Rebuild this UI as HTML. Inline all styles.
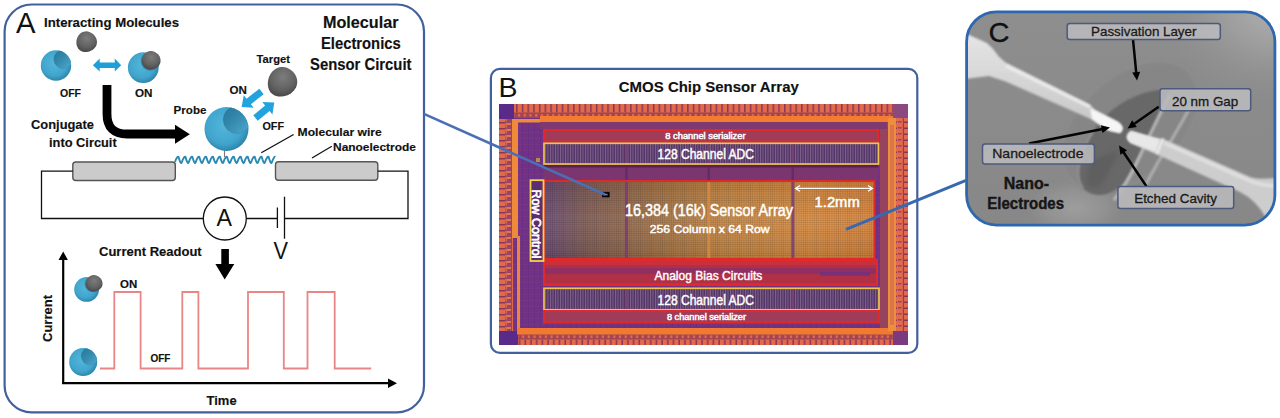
<!DOCTYPE html>
<html><head><meta charset="utf-8"><style>
html,body{margin:0;padding:0;background:#fff;width:1280px;height:418px;overflow:hidden}
svg{display:block}
text{font-family:"Liberation Sans", sans-serif}
</style></head><body>
<svg width="1280" height="418" viewBox="0 0 1280 418">

<defs>
 <radialGradient id="gBlue" cx="0.45" cy="0.42" r="0.6">
  <stop offset="0" stop-color="#52b6dc"/>
  <stop offset="0.7" stop-color="#40a4cc"/>
  <stop offset="1" stop-color="#2b82a8"/>
 </radialGradient>
 <linearGradient id="gCav" x1="0.1" y1="0.1" x2="0.9" y2="0.9">
  <stop offset="0" stop-color="#2a7a9c"/>
  <stop offset="0.45" stop-color="#3589ad"/>
  <stop offset="1" stop-color="#4aa6cb"/>
 </linearGradient>
 <radialGradient id="gGrey" cx="0.4" cy="0.35" r="0.7">
  <stop offset="0" stop-color="#7c7c7c"/>
  <stop offset="0.6" stop-color="#626262"/>
  <stop offset="1" stop-color="#444"/>
 </radialGradient>
</defs>

<rect x="4.6" y="4.5" width="419.4" height="407.9" rx="27" fill="#fff" stroke="#42609c" stroke-width="2.2"/>
<text x="16" y="32.5" font-size="29" font-weight="normal" fill="#111" textLength="19.5" lengthAdjust="spacingAndGlyphs" >A</text>
<text x="44" y="27.3" font-size="12.6" font-weight="bold" fill="#111" stroke="#111" stroke-width="0.15" textLength="135" lengthAdjust="spacingAndGlyphs" >Interacting Molecules</text>
<path d="M10.20,0.00 L9.98,1.36 L9.60,2.69 L9.06,3.98 L8.39,5.20 L7.60,6.33 L6.70,7.35 L5.72,8.25 L4.66,9.01 L3.54,9.61 L2.38,10.05 L1.20,10.31 L0.00,10.40 L-1.20,10.31 L-2.38,10.05 L-3.54,9.61 L-4.66,9.01 L-5.72,8.25 L-6.70,7.35 L-7.60,6.33 L-8.39,5.20 L-9.06,3.98 L-9.60,2.69 L-9.98,1.36 L-10.20,0.00 L-10.24,-1.36 L-10.11,-2.69 L-9.78,-3.98 L-9.28,-5.20 L-8.58,-6.33 L-7.72,-7.35 L-6.70,-8.25 L-5.54,-9.01 L-4.26,-9.61 L-2.89,-10.05 L-1.46,-10.31 L-0.00,-10.40 L1.46,-10.31 L2.89,-10.05 L4.26,-9.61 L5.54,-9.01 L6.70,-8.25 L7.72,-7.35 L8.58,-6.33 L9.28,-5.20 L9.78,-3.98 L10.11,-2.69 L10.24,-1.36 Z" transform="translate(86.3 42) rotate(40)" fill="url(#gGrey)"/>
<clipPath id="cpa"><circle cx="56" cy="65.5" r="15.2"/></clipPath>
<circle cx="56" cy="65.5" r="15.2" fill="url(#gBlue)"/>
<g clip-path="url(#cpa)"><circle cx="63.144" cy="59.116" r="9.424" fill="url(#gCav)" stroke="#2b7293" stroke-opacity="0.4" stroke-width="0.45599999999999996"/></g>
<clipPath id="cpb"><circle cx="143.3" cy="67.6" r="15.4"/></clipPath>
<circle cx="143.3" cy="67.6" r="15.4" fill="url(#gBlue)"/>
<g clip-path="url(#cpb)"><circle cx="150.538" cy="61.13199999999999" r="9.548" fill="url(#gCav)" stroke="#2b7293" stroke-opacity="0.4" stroke-width="0.46199999999999997"/></g>
<path d="M9.30,0.00 L9.15,1.23 L8.84,2.43 L8.39,3.60 L7.81,4.70 L7.11,5.72 L6.30,6.65 L5.39,7.46 L4.41,8.14 L3.36,8.68 L2.27,9.08 L1.14,9.32 L0.00,9.40 L-1.14,9.32 L-2.27,9.08 L-3.36,8.68 L-4.41,8.14 L-5.39,7.46 L-6.30,6.65 L-7.11,5.72 L-7.81,4.70 L-8.39,3.60 L-8.84,2.43 L-9.15,1.23 L-9.30,0.00 L-9.29,-1.23 L-9.12,-2.43 L-8.79,-3.60 L-8.30,-4.70 L-7.65,-5.72 L-6.86,-6.65 L-5.93,-7.46 L-4.89,-8.14 L-3.76,-8.68 L-2.55,-9.08 L-1.29,-9.32 L-0.00,-9.40 L1.29,-9.32 L2.55,-9.08 L3.76,-8.68 L4.89,-8.14 L5.93,-7.46 L6.86,-6.65 L7.65,-5.72 L8.30,-4.70 L8.79,-3.60 L9.12,-2.43 L9.29,-1.23 Z" transform="translate(151 60.6) rotate(40)" fill="url(#gGrey)"/>
<text x="60" y="97" font-size="11.2" font-weight="bold" fill="#111" stroke="#111" stroke-width="0.15" textLength="21" lengthAdjust="spacingAndGlyphs" >OFF</text>
<text x="135" y="97" font-size="11.2" font-weight="bold" fill="#111" stroke="#111" stroke-width="0.15" textLength="17.5" lengthAdjust="spacingAndGlyphs" >ON</text>
<path d="M92.9,65.2 L99.7,58.6 L99.7,62.6 L114.8,62.6 L114.8,58.6 L121.2,65.2 L114.8,71.5 L114.8,67.9 L99.7,67.9 L99.7,71.5 Z" fill="#1e9fd8"/>
<path d="M107,85 L107,114 Q107,134 127,134 L176,134" fill="none" stroke="#000" stroke-width="8.8"/>
<path d="M175,124.8 L189.8,134.2 L175,143.8 Z" fill="#000"/>
<text x="31" y="128.8" font-size="12.6" font-weight="bold" fill="#111" stroke="#111" stroke-width="0.15" textLength="63" lengthAdjust="spacingAndGlyphs" >Conjugate</text>
<text x="49" y="146.7" font-size="12.6" font-weight="bold" fill="#111" stroke="#111" stroke-width="0.15" textLength="67.7" lengthAdjust="spacingAndGlyphs" >into Circuit</text>
<text x="173.6" y="114.4" font-size="11.6" font-weight="bold" fill="#111" stroke="#111" stroke-width="0.15" textLength="32.8" lengthAdjust="spacingAndGlyphs" >Probe</text>
<text x="256.6" y="62.6" font-size="11.6" font-weight="bold" fill="#111" stroke="#111" stroke-width="0.15" textLength="33.4" lengthAdjust="spacingAndGlyphs" >Target</text>
<path d="M14.30,0.00 L13.99,1.98 L13.46,3.93 L12.71,5.82 L11.76,7.60 L10.65,9.25 L9.40,10.75 L8.01,12.06 L6.53,13.16 L4.97,14.04 L3.34,14.68 L1.68,15.07 L0.00,15.20 L-1.68,15.07 L-3.34,14.68 L-4.97,14.04 L-6.53,13.16 L-8.01,12.06 L-9.40,10.75 L-10.65,9.25 L-11.76,7.60 L-12.71,5.82 L-13.46,3.93 L-13.99,1.98 L-14.30,0.00 L-14.36,-1.98 L-14.17,-3.93 L-13.72,-5.82 L-13.00,-7.60 L-12.04,-9.25 L-10.83,-10.75 L-9.40,-12.06 L-7.77,-13.16 L-5.98,-14.04 L-4.06,-14.68 L-2.05,-15.07 L-0.00,-15.20 L2.05,-15.07 L4.06,-14.68 L5.98,-14.04 L7.77,-13.16 L9.40,-12.06 L10.83,-10.75 L12.04,-9.25 L13.00,-7.60 L13.72,-5.82 L14.17,-3.93 L14.36,-1.98 Z" transform="translate(282 82.3) rotate(42)" fill="url(#gGrey)"/>
<text x="229.6" y="93.9" font-size="11" font-weight="bold" fill="#111" stroke="#111" stroke-width="0.15" textLength="17.3" lengthAdjust="spacingAndGlyphs" >ON</text>
<text x="262.4" y="129.7" font-size="11.2" font-weight="bold" fill="#111" stroke="#111" stroke-width="0.15" textLength="21.6" lengthAdjust="spacingAndGlyphs" >OFF</text>
<path d="M259.35,88.74 L246.55,98.71 L243.78,95.16 L241.60,107.00 L253.62,107.78 L250.85,104.23 L263.65,94.26 Z" fill="#22a3de"/>
<path d="M257.72,120.71 L269.56,111.01 L272.41,114.49 L274.30,102.60 L262.27,102.11 L265.12,105.60 L253.28,115.29 Z" fill="#22a3de"/>
<line x1="224.5" y1="150" x2="224.5" y2="157" stroke="#907078" stroke-width="1.1"/>
<clipPath id="cpp"><circle cx="226.5" cy="129" r="22"/></clipPath>
<circle cx="226.5" cy="129" r="22" fill="url(#gBlue)"/>
<g clip-path="url(#cpp)"><circle cx="236.84" cy="119.76" r="13.64" fill="url(#gCav)" stroke="#2b7293" stroke-opacity="0.4" stroke-width="0.6599999999999999"/></g>
<path d="M175,162 Q177.08,156 178.47,156.8 Q180.89,165.5 181.93,162 Q184.01,156 185.40,156.8 Q187.82,165.5 188.86,162 Q190.94,156 192.33,156.8 Q194.75,165.5 195.79,162 Q197.87,156 199.26,156.8 Q201.68,165.5 202.72,162 Q204.80,156 206.19,156.8 Q208.62,165.5 209.66,162 Q211.73,156 213.12,156.8 Q215.55,165.5 216.59,162 Q218.67,156 220.05,156.8 Q222.48,165.5 223.52,162 Q225.60,156 226.98,156.8 Q229.41,165.5 230.45,162 Q232.53,156 233.91,156.8 Q236.34,165.5 237.38,162 Q239.46,156 240.84,156.8 Q243.27,165.5 244.31,162 Q246.39,156 247.78,156.8 Q250.20,165.5 251.24,162 Q253.32,156 254.71,156.8 Q257.13,165.5 258.17,162 Q260.25,156 261.64,156.8 Q264.06,165.5 265.10,162 Q267.18,156 268.57,156.8 Q270.99,165.5 272.03,162 Q274.11,156 275.50,156.8" fill="none" stroke="#2a8ab4" stroke-width="1.9"/>
<rect x="72.8" y="162" width="102.5" height="18.5" rx="3" fill="#cbcbcb" stroke="#555" stroke-width="1.4"/>
<rect x="275.5" y="161.8" width="102.3" height="18.5" rx="3" fill="#cbcbcb" stroke="#555" stroke-width="1.4"/>
<line x1="261.3" y1="152.8" x2="293.6" y2="134.5" stroke="#111" stroke-width="1.3"/>
<line x1="312" y1="158" x2="331.8" y2="146.3" stroke="#111" stroke-width="1.3"/>
<text x="297.6" y="136.3" font-size="11.6" font-weight="bold" fill="#111" stroke="#111" stroke-width="0.15" textLength="84.2" lengthAdjust="spacingAndGlyphs" >Molecular wire</text>
<text x="333" y="151" font-size="11.6" font-weight="bold" fill="#111" stroke="#111" stroke-width="0.15" textLength="83" lengthAdjust="spacingAndGlyphs" >Nanoelectrode</text>
<text x="323" y="27.6" font-size="16" font-weight="bold" fill="#111" stroke="#111" stroke-width="0.15" textLength="75.5" lengthAdjust="spacingAndGlyphs" >Molecular</text>
<text x="321" y="49.1" font-size="16" font-weight="bold" fill="#111" stroke="#111" stroke-width="0.15" textLength="79.7" lengthAdjust="spacingAndGlyphs" >Electronics</text>
<text x="310" y="70" font-size="16" font-weight="bold" fill="#111" stroke="#111" stroke-width="0.15" textLength="101.5" lengthAdjust="spacingAndGlyphs" >Sensor Circuit</text>
<path d="M72.8,171.2 L41.5,171.2 L41.5,218.5 L203.3,218.5 M246.3,218.5 L277.4,218.5 M284.5,218.5 L408,218.5 L408,171.2 L377.8,171.2" fill="none" stroke="#111" stroke-width="1.3"/>
<circle cx="224.8" cy="218.5" r="21.5" fill="#fff" stroke="#111" stroke-width="1.3"/>
<text x="216.6" y="226.3" font-size="23" font-weight="normal" fill="#111" textLength="15.5" lengthAdjust="spacingAndGlyphs" >A</text>
<line x1="277.4" y1="207.5" x2="277.4" y2="228" stroke="#111" stroke-width="1.3"/>
<line x1="284.5" y1="196.7" x2="284.5" y2="238.7" stroke="#111" stroke-width="1.3"/>
<text x="273.6" y="258.6" font-size="23" font-weight="normal" fill="#111" textLength="14.5" lengthAdjust="spacingAndGlyphs" >V</text>
<text x="99" y="256.4" font-size="12.6" font-weight="bold" fill="#111" stroke="#111" stroke-width="0.15" textLength="102.7" lengthAdjust="spacingAndGlyphs" >Current Readout</text>
<path d="M221.3,249 L228.9,249 L228.9,263.9 L234.3,263.9 L224.7,279.5 L215.4,263.9 L221.3,263.9 Z" fill="#000"/>
<path d="M63.2,383.5 L63.2,258" fill="none" stroke="#000" stroke-width="2.2"/>
<path d="M58.5,260 L63.2,251.5 L67.9,260 Z" fill="#000"/>
<path d="M62,383.2 L390,383.2" fill="none" stroke="#000" stroke-width="2.2"/>
<path d="M388,378.5 L397,383.2 L388,387.9 Z" fill="#000"/>
<path d="M100,368.5 L114.3,368.5 L114.3,292 L140.6,292 L140.6,368.5 L182.3,368.5 L182.3,292 L198.4,292 L198.4,368.5 L248,368.5 L248,292 L283.8,292 L283.8,368.5 L307.5,368.5 L307.5,292 L334.7,292 L334.7,368.5 L371.2,368.5" fill="none" stroke="#e98585" stroke-width="1.8"/>
<clipPath id="cpg1"><circle cx="86.6" cy="289.4" r="12.4"/></clipPath>
<circle cx="86.6" cy="289.4" r="12.4" fill="url(#gBlue)"/>
<g clip-path="url(#cpg1)"><circle cx="92.428" cy="284.19199999999995" r="7.688" fill="url(#gCav)" stroke="#2b7293" stroke-opacity="0.4" stroke-width="0.372"/></g>
<path d="M8.20,0.00 L8.04,1.10 L7.76,2.17 L7.34,3.21 L6.82,4.20 L6.19,5.11 L5.47,5.94 L4.68,6.66 L3.82,7.27 L2.91,7.76 L1.96,8.11 L0.99,8.33 L0.00,8.40 L-0.99,8.33 L-1.96,8.11 L-2.91,7.76 L-3.82,7.27 L-4.68,6.66 L-5.47,5.94 L-6.19,5.11 L-6.82,4.20 L-7.34,3.21 L-7.76,2.17 L-8.04,1.10 L-8.20,0.00 L-8.21,-1.10 L-8.08,-2.17 L-7.81,-3.21 L-7.39,-4.20 L-6.82,-5.11 L-6.13,-5.94 L-5.31,-6.66 L-4.38,-7.27 L-3.37,-7.76 L-2.29,-8.11 L-1.16,-8.33 L-0.00,-8.40 L1.16,-8.33 L2.29,-8.11 L3.37,-7.76 L4.38,-7.27 L5.31,-6.66 L6.13,-5.94 L6.82,-5.11 L7.39,-4.20 L7.81,-3.21 L8.08,-2.17 L8.21,-1.10 Z" transform="translate(94 283.6) rotate(40)" fill="url(#gGrey)"/>
<clipPath id="cpg2"><circle cx="83.2" cy="362" r="14"/></clipPath>
<circle cx="83.2" cy="362" r="14" fill="url(#gBlue)"/>
<g clip-path="url(#cpg2)"><circle cx="89.78" cy="356.12" r="8.68" fill="url(#gCav)" stroke="#2b7293" stroke-opacity="0.4" stroke-width="0.42"/></g>
<text x="120" y="288" font-size="10.6" font-weight="bold" fill="#111" stroke="#111" stroke-width="0.15" textLength="17.2" lengthAdjust="spacingAndGlyphs" >ON</text>
<text x="150.4" y="362" font-size="10.6" font-weight="bold" fill="#111" stroke="#111" stroke-width="0.15" textLength="20" lengthAdjust="spacingAndGlyphs" >OFF</text>
<text x="52" y="342" font-size="12.6" font-weight="bold" fill="#111" stroke="#111" stroke-width="0.15" textLength="47" lengthAdjust="spacingAndGlyphs" transform="rotate(-90 52 342)">Current</text>
<text x="206.6" y="404.6" font-size="12.6" font-weight="bold" fill="#111" stroke="#111" stroke-width="0.15" textLength="30" lengthAdjust="spacingAndGlyphs" >Time</text>
<rect x="490.9" y="68.9" width="426.4" height="284" rx="9" fill="#fff" stroke="#42609c" stroke-width="2.2"/>
<text x="498.5" y="97" font-size="28" font-weight="normal" fill="#111" textLength="19" lengthAdjust="spacingAndGlyphs" >B</text>
<text x="618.8" y="91.6" font-size="14.8" font-weight="bold" fill="#111" stroke="#111" stroke-width="0.15" textLength="180" lengthAdjust="spacingAndGlyphs" >CMOS Chip Sensor Array</text>

<defs>
 <pattern id="padT" x="499" y="104" width="5.7" height="14" patternUnits="userSpaceOnUse">
  <rect width="5.7" height="14" fill="#e26a4c"/>
  <rect x="0" y="0" width="1.5" height="8.5" fill="#8a3656"/>
  <rect x="0" y="8.5" width="5.7" height="5.5" fill="#a44452"/>
  <rect x="2" y="10" width="2" height="2.6" fill="#e0704c"/>
 </pattern>
 <pattern id="padL" x="499" y="104" width="14" height="6" patternUnits="userSpaceOnUse">
  <rect width="14" height="6" fill="#e26a4c"/>
  <rect x="0" y="0" width="7" height="1.5" fill="#8a3656"/>
  <rect x="7" y="0" width="1.2" height="6" fill="#9a3c58"/>
  <rect x="9.5" y="0.5" width="3.5" height="1.4" fill="#9a3c58"/>
 </pattern>
 <pattern id="colL" x="505" y="104" width="7" height="6" patternUnits="userSpaceOnUse">
  <rect width="7" height="6" fill="#9a4468"/>
  <rect x="0.5" y="1" width="5.5" height="2" fill="#e07848"/>
  <rect x="0.5" y="1" width="1.5" height="4.5" fill="#d06a50"/>
 </pattern>
 <pattern id="grid" x="0" y="0" width="2.2" height="2.2" patternUnits="userSpaceOnUse">
  <rect width="2.2" height="2.2" fill="none"/>
  <rect width="2.2" height="0.6" fill="#000" fill-opacity="0.13"/>
  <rect width="0.6" height="2.2" fill="#000" fill-opacity="0.13"/>
 </pattern>
 <pattern id="adc" x="0" y="144" width="2.5" height="20" patternUnits="userSpaceOnUse">
  <rect width="2.5" height="20" fill="#523466"/>
  <rect width="1" height="20" fill="#ae90b0" fill-opacity="0.5"/>
 </pattern>
 <pattern id="purp" x="0" y="0" width="6" height="6" patternUnits="userSpaceOnUse">
  <rect width="6" height="6" fill="#73338a"/>
  <rect width="6" height="1" fill="#8a3c78" fill-opacity="0.6"/>
  <rect width="1" height="6" fill="#60307e" fill-opacity="0.6"/>
 </pattern>
 <linearGradient id="arr" x1="0" y1="0" x2="1" y2="0">
  <stop offset="0" stop-color="#6e5078"/>
  <stop offset="0.12" stop-color="#82605a"/>
  <stop offset="0.35" stop-color="#a8784a"/>
  <stop offset="0.55" stop-color="#c88a48"/>
  <stop offset="0.8" stop-color="#d88e45"/>
  <stop offset="1" stop-color="#d9863f"/>
 </linearGradient>
 <linearGradient id="arrV" x1="0" y1="0" x2="0" y2="1">
  <stop offset="0" stop-color="#000" stop-opacity="0.08"/>
  <stop offset="0.5" stop-color="#fff" stop-opacity="0.06"/>
  <stop offset="1" stop-color="#000" stop-opacity="0.1"/>
 </linearGradient>
</defs>

<rect x="499" y="104" width="409" height="241" fill="url(#purp)"/>
<rect x="499" y="104" width="409" height="14" fill="url(#padT)"/>
<rect x="499" y="331" width="409" height="14" fill="url(#padT)" transform="rotate(180 703.5 338)"/>
<rect x="499" y="104" width="14" height="241" fill="url(#padL)"/>
<rect x="894" y="104" width="14" height="241" fill="url(#padL)" transform="rotate(180 901 224.5)"/>
<rect x="499" y="104" width="15" height="15" fill="#5a2a8a"/>
<rect x="893" y="104" width="15" height="14" fill="#8a4a80"/>
<rect x="499" y="331" width="19" height="14" fill="#5a2a8a"/>
<rect x="893" y="331" width="15" height="14" fill="#7a3a80"/>
<rect x="521" y="122" width="366" height="206" fill="url(#purp)"/>
<rect x="521" y="122" width="366" height="206" fill="#6b2f86" fill-opacity="0.3"/>
<rect x="514" y="119" width="27" height="3.5" fill="#f08a3a"/>
<rect x="540" y="116" width="353" height="6" fill="#f47c30"/>
<rect x="512" y="119" width="6" height="119" fill="#ee8a3a"/>
<rect x="536" y="158" width="4" height="4" fill="#c8a040" fill-opacity="0.8"/>
<rect x="505" y="119" width="7" height="212" fill="url(#colL)"/>
<rect x="517" y="236" width="3" height="95" fill="#e88838"/>
<rect x="517" y="328" width="376" height="6.5" fill="#f07a30"/>
<rect x="880" y="122" width="8" height="206" fill="#96445e"/>
<rect x="888" y="118" width="8" height="213" fill="#ee8c40"/>
<rect x="890" y="125" width="4" height="200" fill="#c86050" fill-opacity="0.5"/>
<rect x="540" y="122" width="347" height="7" fill="#7e3a70"/>
<rect x="544" y="130" width="334.5" height="11.5" fill="#a03c5a" stroke="#e02a2a" stroke-width="2"/>
<rect x="544" y="143.3" width="334.5" height="20.7" fill="url(#adc)" stroke="#f0c44c" stroke-width="1.7"/>
<rect x="544" y="165" width="334" height="15" fill="#7b3670"/>
<rect x="544" y="165" width="334" height="2.5" fill="#5a2050"/>
<rect x="625.1999999999999" y="144.5" width="2.4" height="18.5" fill="#7a4070"/>
<rect x="625.1999999999999" y="167" width="2.4" height="13" fill="#5a2a6a" fill-opacity="0.8"/>
<rect x="707.5999999999999" y="144.5" width="2.4" height="18.5" fill="#7a4070"/>
<rect x="707.5999999999999" y="167" width="2.4" height="13" fill="#5a2a6a" fill-opacity="0.8"/>
<rect x="791.5999999999999" y="144.5" width="2.4" height="18.5" fill="#7a4070"/>
<rect x="791.5999999999999" y="167" width="2.4" height="13" fill="#5a2a6a" fill-opacity="0.8"/>
<rect x="544.5" y="181.5" width="330" height="77.5" fill="url(#arr)"/>
<rect x="544.5" y="181.5" width="330" height="77.5" fill="url(#arrV)"/>
<rect x="544.5" y="181.5" width="330" height="77.5" fill="url(#grid)"/>
<rect x="624.9" y="181.5" width="3" height="77.5" fill="#7a3a7a" fill-opacity="0.85"/>
<rect x="707.3" y="181.5" width="3" height="77.5" fill="#d88a40" fill-opacity="0.85"/>
<rect x="791.3" y="181.5" width="3" height="77.5" fill="#7a3a7a" fill-opacity="0.85"/>
<rect x="544.5" y="181" width="330" height="78" fill="none" stroke="#e02a2a" stroke-width="2"/>
<rect x="544" y="260" width="333" height="25" fill="#c8303e" stroke="#e02a2a" stroke-width="2"/>
<rect x="545" y="265" width="331" height="18" fill="#b03048"/>
<rect x="545" y="268" width="331" height="6" fill="#7a3078" fill-opacity="0.55"/>
<rect x="820" y="272" width="50" height="4" fill="#6a3088" fill-opacity="0.7"/>
<rect x="544" y="288.3" width="335" height="21.5" fill="url(#adc)" stroke="#f0c44c" stroke-width="1.7"/>
<rect x="544" y="311" width="335" height="11.5" fill="#a03c5a" stroke="#e02a2a" stroke-width="2"/>
<rect x="625.1999999999999" y="289.5" width="2.4" height="19.5" fill="#7a4070"/>
<rect x="707.5999999999999" y="289.5" width="2.4" height="19.5" fill="#7a4070"/>
<rect x="791.5999999999999" y="289.5" width="2.4" height="19.5" fill="#7a4070"/>
<rect x="530.5" y="180.2" width="13" height="80.8" fill="#5e2c72" stroke="#f6d24a" stroke-width="1.8"/>
<rect x="602.4" y="192.2" width="6.8" height="4.8" fill="#000" stroke="#000" stroke-width="0.6"/>
<rect x="604" y="193.8" width="3.6" height="1.6" fill="#8080a0"/>
<path d="M796,188.4 L872,188.4" stroke="#fff" stroke-width="1.3"/>
<path d="M800,185.5 L795.5,188.4 L800,191.3 M868,185.5 L872.5,188.4 L868,191.3" stroke="#fff" stroke-width="1.3" fill="none"/>
<text x="665.3" y="139.2" font-size="8.2" font-weight="normal" fill="#fff" stroke="#fff" stroke-width="0.45" textLength="80.2" lengthAdjust="spacingAndGlyphs" >8 channel serializer</text>
<text x="657.5" y="158.7" font-size="14.3" font-weight="normal" fill="#fff" stroke="#fff" stroke-width="0.45" textLength="96.5" lengthAdjust="spacingAndGlyphs" >128 Channel ADC</text>
<text x="624.9" y="215.7" font-size="15.6" font-weight="normal" fill="#fff" stroke="#fff" stroke-width="0.45" textLength="168" lengthAdjust="spacingAndGlyphs" >16,384 (16k) Sensor Array</text>
<text x="649.8" y="232.7" font-size="11.6" font-weight="normal" fill="#fff" stroke="#fff" stroke-width="0.45" textLength="119.7" lengthAdjust="spacingAndGlyphs" >256 Column x 64 Row</text>
<text x="814.6" y="207" font-size="14" font-weight="normal" fill="#fff" stroke="#fff" stroke-width="0.45" textLength="45.1" lengthAdjust="spacingAndGlyphs" >1.2mm</text>
<text x="654.4" y="280.3" font-size="13.5" font-weight="normal" fill="#fff" stroke="#fff" stroke-width="0.45" textLength="107.9" lengthAdjust="spacingAndGlyphs" >Analog Bias Circuits</text>
<text x="657.5" y="304.6" font-size="14.3" font-weight="normal" fill="#fff" stroke="#fff" stroke-width="0.45" textLength="96.5" lengthAdjust="spacingAndGlyphs" >128 Channel ADC</text>
<text x="666.9" y="320" font-size="8.2" font-weight="normal" fill="#fff" stroke="#fff" stroke-width="0.45" textLength="79.1" lengthAdjust="spacingAndGlyphs" >8 channel serializer</text>
<text x="532.2" y="189.5" font-size="12.8" font-weight="normal" fill="#fff" stroke="#fff" stroke-width="0.7" textLength="69" lengthAdjust="spacingAndGlyphs" transform="rotate(90 532.2 189.5)">Row Control</text>

<defs>
 <clipPath id="cpC"><rect x="966.6" y="11.8" width="308.3" height="213.3" rx="30"/></clipPath>
 <filter id="b1" x="-20%" y="-20%" width="140%" height="140%"><feGaussianBlur stdDeviation="1"/></filter>
 <filter id="b2" x="-30%" y="-30%" width="160%" height="160%"><feGaussianBlur stdDeviation="2.5"/></filter>
 <filter id="b4" x="-30%" y="-30%" width="160%" height="160%"><feGaussianBlur stdDeviation="5"/></filter>
 <linearGradient id="semBg" x1="0" y1="0" x2="0" y2="1">
  <stop offset="0" stop-color="#8e8e8e"/>
  <stop offset="1" stop-color="#878787"/>
 </linearGradient>
 <radialGradient id="semLo" cx="0.5" cy="0.5" r="0.5">
  <stop offset="0" stop-color="#9e9e9e" stop-opacity="1"/>
  <stop offset="0.6" stop-color="#989898" stop-opacity="0.6"/>
  <stop offset="1" stop-color="#909090" stop-opacity="0"/>
 </radialGradient>
 <radialGradient id="semHi" cx="1" cy="0" r="0.7">
  <stop offset="0" stop-color="#b4b4b4" stop-opacity="1"/>
  <stop offset="0.45" stop-color="#a4a4a4" stop-opacity="0.7"/>
  <stop offset="1" stop-color="#909090" stop-opacity="0"/>
 </radialGradient>
 <linearGradient id="elL" x1="0" y1="0" x2="0" y2="1">
  <stop offset="0" stop-color="#e6e6e6"/>
  <stop offset="1" stop-color="#c4c4c4"/>
 </linearGradient>
</defs>

<g clip-path="url(#cpC)">
<rect x="960" y="5" width="320" height="230" fill="url(#semBg)"/>
<rect x="1100" y="5" width="180" height="140" fill="url(#semHi)"/>
<ellipse cx="1075" cy="208" rx="50" ry="30" fill="url(#semLo)"/>
<ellipse cx="1130" cy="126" rx="80" ry="50" transform="rotate(-42 1130 126)" fill="#868686" filter="url(#b2)"/>
<ellipse cx="1130" cy="126" rx="80" ry="50" transform="rotate(-42 1130 126)" fill="none" stroke="#a0a0a0" stroke-width="1.4" stroke-dasharray="1.2 1.8" stroke-opacity="0.7" filter="url(#b1)"/>
<path d="M1170,90 C1160,120 1142,152 1126,180 C1114,196 1094,200 1083,188 C1073,176 1080,152 1094,130 C1108,108 1140,88 1170,90 Z" fill="#676767" filter="url(#b1)"/>
<path d="M1120,150 C1110,170 1104,185 1095,188 C1085,188 1084,175 1092,160 Z" fill="#5e5e5e" filter="url(#b2)"/>
<path d="M1083,188 C1073,176 1080,152 1094,130" fill="none" stroke="#9a9a9a" stroke-width="1.6" filter="url(#b1)"/>
<path d="M1170,94 Q1152,130 1137,162 Q1127,184 1114,200" fill="none" stroke="#bababa" stroke-width="3" filter="url(#b1)"/>
<path d="M1192,104 Q1172,140 1157,164 Q1147,182 1138,200" fill="none" stroke="#b0b0b0" stroke-width="2.8" filter="url(#b1)"/>
<path d="M960,31 L987,43 Q994,49 999,56.8 L1005.6,62.5 L1090,104.5 L1095,110 L1118,122 Q1126,128 1120,133 L1110,131 L1093,120 L1005.6,81.5 L988.8,76 L960,79.5 Z" fill="url(#elL)" filter="url(#b1)"/>
<path d="M1090,108 L1118,122 Q1126,128 1120,133 L1107,130 L1092,119 Z" fill="#f6f6f6" filter="url(#b1)"/>
<path d="M1006,66 L1090,107" stroke="#ececec" stroke-width="3" filter="url(#b1)"/>
<path d="M1131,131 L1156,139 L1163,138.7 L1250,177 Q1256,179 1262,178.7 L1280,178 L1280,235 L1266,218 Q1256,200 1240,192 L1156,154 L1131,143 Q1123,137 1131,131 Z" fill="#cdcdcd" filter="url(#b1)"/>
<path d="M1131,131 L1160,139 L1156,152 L1131,143 Q1123,137 1131,131 Z" fill="#e8e8e8" filter="url(#b1)"/>
<path d="M1163,138.5 L1157,154" stroke="#f4f4f4" stroke-width="2" filter="url(#b1)"/>
<path d="M1164,143 L1250,181 Q1262,186 1280,186" fill="none" stroke="#e0e0e0" stroke-width="3.5" filter="url(#b1)"/>
</g>
<rect x="966.6" y="11.8" width="308.3" height="213.3" rx="30" fill="none" stroke="#2d68ae" stroke-width="2.8"/>
<text x="988.5" y="42" font-size="28" font-weight="normal" fill="#111" stroke="#111" stroke-width="0.3" textLength="21" lengthAdjust="spacingAndGlyphs" >C</text>
<line x1="1133" y1="39.4" x2="1136.27" y2="73.04" stroke="#050505" stroke-width="2.5"/>
<path d="M1137,80.5 L1132.20,72.43 L1140.16,71.65 Z" fill="#000"/>
<line x1="1158.7" y1="106.7" x2="1133.65" y2="124.20" stroke="#050505" stroke-width="2.5"/>
<path d="M1127.5,128.5 L1132.18,120.35 L1136.76,126.91 Z" fill="#000"/>
<line x1="1029" y1="143.5" x2="1102.64" y2="128.95" stroke="#050505" stroke-width="2.5"/>
<path d="M1110,127.5 L1102.44,133.07 L1100.89,125.22 Z" fill="#000"/>
<line x1="1146.4" y1="186.3" x2="1123.18" y2="151.73" stroke="#050505" stroke-width="2.5"/>
<path d="M1119,145.5 L1127.06,150.33 L1120.42,154.79 Z" fill="#000"/>
<rect x="1067.2" y="23.4" width="153.0999999999999" height="16.0" rx="2.5" fill="#b9b9bb" fill-opacity="0.9" stroke="#4e5a7c" stroke-width="1.5"/>
<text x="1091.1" y="36" font-size="13.1" font-weight="normal" fill="#1a1a1a" stroke="#1a1a1a" stroke-width="0.3" textLength="105.3" lengthAdjust="spacingAndGlyphs" >Passivation Layer</text>
<rect x="1160" y="88.7" width="90.70000000000005" height="22.0" rx="2.5" fill="#b9b9bb" fill-opacity="0.9" stroke="#4e5a7c" stroke-width="1.5"/>
<text x="1172" y="105.6" font-size="13.1" font-weight="normal" fill="#1a1a1a" stroke="#1a1a1a" stroke-width="0.3" textLength="66.2" lengthAdjust="spacingAndGlyphs" >20 nm Gap</text>
<rect x="982.5" y="143.9" width="111.90000000000009" height="20.099999999999994" rx="2.5" fill="#b9b9bb" fill-opacity="0.9" stroke="#4e5a7c" stroke-width="1.5"/>
<text x="992.2" y="158.4" font-size="13.1" font-weight="normal" fill="#1a1a1a" stroke="#1a1a1a" stroke-width="0.3" textLength="91.3" lengthAdjust="spacingAndGlyphs" >Nanoelectrode</text>
<rect x="1117.9" y="186.6" width="115.79999999999995" height="21.80000000000001" rx="2.5" fill="#b9b9bb" fill-opacity="0.9" stroke="#4e5a7c" stroke-width="1.5"/>
<text x="1134.2" y="202.7" font-size="13.1" font-weight="normal" fill="#1a1a1a" stroke="#1a1a1a" stroke-width="0.3" textLength="82.8" lengthAdjust="spacingAndGlyphs" >Etched Cavity</text>
<text x="1003.7" y="188.9" font-size="16" font-weight="bold" fill="#161616" stroke="#161616" stroke-width="0.4" textLength="45.3" lengthAdjust="spacingAndGlyphs" >Nano-</text>
<text x="987.3" y="209" font-size="16" font-weight="bold" fill="#161616" stroke="#161616" stroke-width="0.4" textLength="76.7" lengthAdjust="spacingAndGlyphs" >Electrodes</text>
<line x1="423.9" y1="113.9" x2="605" y2="194.5" stroke="#4a6fb5" stroke-width="2.6"/>
<line x1="846" y1="229.3" x2="966" y2="180.4" stroke="#3a68b0" stroke-width="3"/>
</svg>
</body></html>
